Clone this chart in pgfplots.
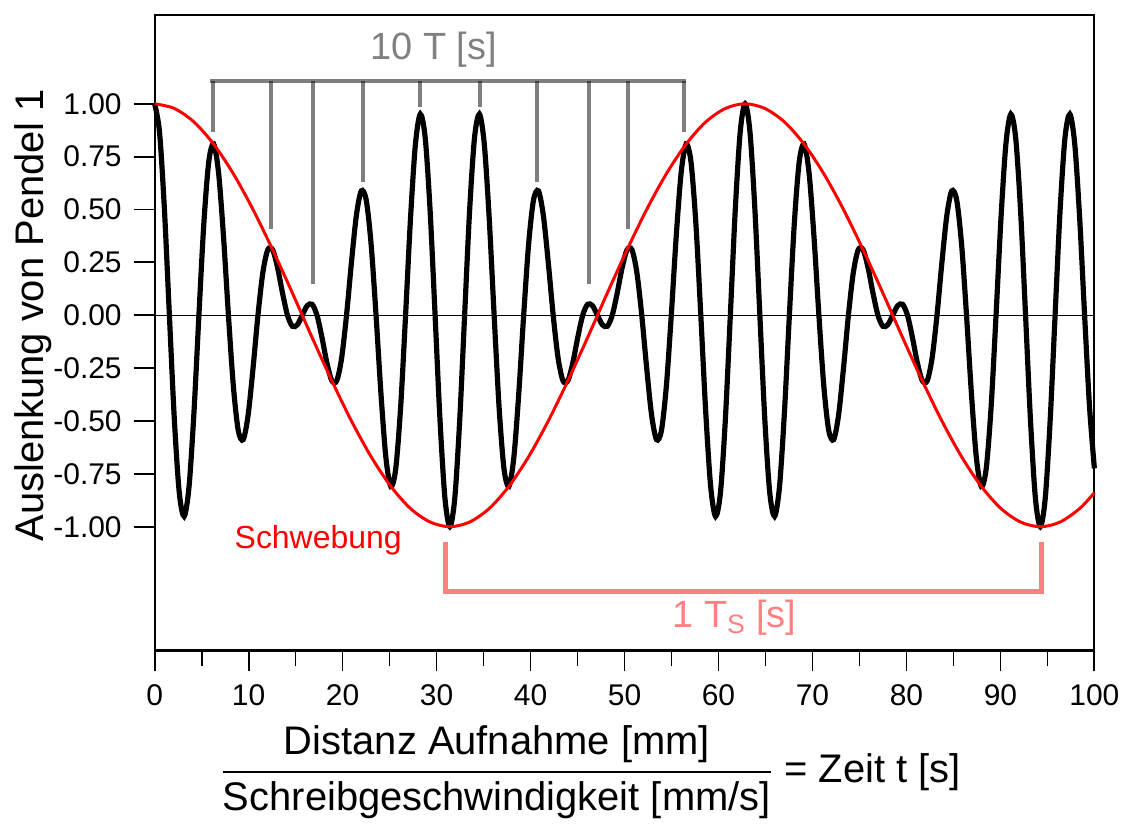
\documentclass[border=0pt]{standalone}
\usepackage{amsmath}
\usepackage{fontspec}
\setmainfont{Liberation Sans}
\usepackage{pgfplots}
\pgfplotsset{compat=1.18}

\definecolor{lachs}{RGB}{255,128,128}

% Pendel 1: cos(t) * cos(t/10)
\pgfplotstableread{
x y
0 1.000
0.524 0.865
1.047 0.497
1.571 0
2.094 -0.489
2.618 -0.837
3.142 -0.951
3.665 -0.809
4.189 -0.457
4.712 0
5.236 0.433
5.760 0.726
6.283 0.809
6.807 0.673
7.330 0.372
7.854 0
8.378 -0.335
8.901 -0.545
9.425 -0.588
9.948 -0.472
10.472 -0.250
10.996 0
11.519 0.203
12.043 0.310
12.566 0.309
13.090 0.224
13.614 0.104
14.137 0
14.661 -0.052
15.184 -0.045
15.708 0
16.232 0.045
16.755 0.052
17.279 0
17.802 -0.104
18.326 -0.224
18.850 -0.309
19.373 -0.310
19.897 -0.203
20.420 0
20.944 0.250
21.468 0.472
21.991 0.588
22.515 0.545
23.038 0.335
23.562 0
24.086 -0.372
24.609 -0.673
25.133 -0.809
25.656 -0.726
26.180 -0.433
26.704 0
27.227 0.457
27.751 0.809
28.274 0.951
28.798 0.837
29.322 0.489
29.845 0
30.369 -0.497
30.892 -0.865
31.416 -1.000
31.940 -0.865
32.463 -0.497
32.987 0
33.510 0.489
34.034 0.837
34.558 0.951
35.081 0.809
35.605 0.457
36.128 0
36.652 -0.433
37.176 -0.726
37.699 -0.809
38.223 -0.673
38.746 -0.372
39.270 0
39.794 0.335
40.317 0.545
40.841 0.588
41.364 0.472
41.888 0.250
42.412 0
42.935 -0.203
43.459 -0.310
43.982 -0.309
44.506 -0.224
45.029 -0.104
45.553 0
46.077 0.052
46.600 0.045
47.124 0
47.648 -0.045
48.171 -0.052
48.695 0
49.218 0.104
49.742 0.224
50.265 0.309
50.789 0.310
51.313 0.203
51.836 0
52.360 -0.250
52.883 -0.472
53.407 -0.588
53.931 -0.545
54.454 -0.335
54.978 0
55.501 0.372
56.025 0.673
56.549 0.809
57.072 0.726
57.596 0.433
58.119 0
58.643 -0.457
59.167 -0.809
59.690 -0.951
60.214 -0.837
60.737 -0.489
61.261 0
61.785 0.497
62.308 0.865
62.832 1.000
63.355 0.865
63.879 0.497
64.403 0
64.926 -0.489
65.450 -0.837
65.973 -0.951
66.497 -0.809
67.021 -0.457
67.544 0
68.068 0.433
68.591 0.726
69.115 0.809
69.639 0.673
70.162 0.372
70.686 0
71.209 -0.335
71.733 -0.545
72.257 -0.588
72.780 -0.472
73.304 -0.250
73.827 0
74.351 0.203
74.875 0.310
75.398 0.309
75.922 0.224
76.445 0.104
76.969 0
77.493 -0.052
78.016 -0.045
78.540 0
79.063 0.045
79.587 0.052
80.111 0
80.634 -0.104
81.158 -0.224
81.681 -0.309
82.205 -0.310
82.729 -0.203
83.252 0
83.776 0.250
84.300 0.472
84.823 0.588
85.347 0.545
85.870 0.335
86.394 0
86.918 -0.372
87.441 -0.673
87.965 -0.809
88.488 -0.726
89.012 -0.433
89.536 0
90.059 0.457
90.583 0.809
91.106 0.951
91.630 0.837
92.153 0.489
92.677 0
93.201 -0.497
93.724 -0.865
94.248 -1.000
94.772 -0.865
95.295 -0.497
95.819 0
96.342 0.489
96.866 0.837
97.389 0.951
97.913 0.809
98.437 0.457
98.960 0
99.484 -0.433
100 -0.724
}\pendel

% Schwebung (Einhuellende)
\pgfplotstableread{
x y
0 1.000
2.094 0.978
4.189 0.914
6.283 0.809
8.378 0.669
10.472 0.500
12.566 0.309
14.661 0.105
16.755 -0.105
18.850 -0.309
20.944 -0.500
23.038 -0.669
25.133 -0.809
27.227 -0.914
29.322 -0.978
31.416 -1.000
33.510 -0.978
35.605 -0.914
37.699 -0.809
39.794 -0.669
41.888 -0.500
43.982 -0.309
46.077 -0.105
48.171 0.105
50.265 0.309
52.360 0.500
54.454 0.669
56.549 0.809
58.643 0.914
60.737 0.978
62.832 1.000
64.926 0.978
67.021 0.914
69.115 0.809
71.209 0.669
73.304 0.500
75.398 0.309
77.493 0.105
79.587 -0.105
81.681 -0.309
83.776 -0.500
85.870 -0.669
87.965 -0.809
90.059 -0.914
92.153 -0.978
94.248 -1.000
96.342 -0.978
98.437 -0.914
100 -0.839
}\schwebung

\begin{document}
\begin{tikzpicture}[grau/.style={black, opacity=0.5, line width=2pt}]
\begin{axis}[
  scale only axis,
  width=471pt, height=318.5pt,
  xmin=0, xmax=100, ymin=-1.585, ymax=1.42,
  clip=false,
  axis line style={line width=1.1pt},
  every tick/.style={black, line width=0.9pt},
  tick align=outside,
  xtick pos=bottom, ytick pos=left,
  major tick length=10.5pt, minor tick length=8pt,
  xtick={0,10,...,100}, minor x tick num=1,
  ytick={-1,-0.75,...,1},
  yticklabels={-1.00,-0.75,-0.50,-0.25,0.00,0.25,0.50,0.75,1.00},
  /pgf/number format/assume math mode=true,
  tick label style={font=\fontsize{15}{18}\selectfont},
  yticklabel style={xshift=-2.5pt},
  xticklabel style={yshift=-3pt},
  label style={font=\fontsize{20}{24}\selectfont},
  ylabel={Auslenkung von Pendel 1},
  ylabel style={at={(axis description cs:-0.1295,0.5275)}, anchor=center},
  xlabel={$\genfrac{}{}{1pt}{0}{\text{Distanz Aufnahme [mm]}}{\text{Schreibgeschwindigkeit [mm/s]}}$ = Zeit t [s]},
  xlabel style={at={(axis description cs:0.5,0)}, anchor=center, yshift=-61pt, xshift=-17pt},
]
\draw[line width=0.5pt] (axis cs:0,0) -- (axis cs:100,0);
\addplot[black, line width=2.6pt, smooth] table {\pendel};
\addplot[red, line width=1.5pt, smooth] table {\schwebung};

% 10 T
\draw[grau] (axis cs:5.91,1.110) -- (axis cs:56.58,1.110);
\draw[grau] (axis cs:6.2,1.110) -- (axis cs:6.2,0.868);
\draw[grau] (axis cs:12.35,1.110) -- (axis cs:12.35,0.406);
\draw[grau] (axis cs:16.8,1.110) -- (axis cs:16.8,0.146);
\draw[grau] (axis cs:22.2,1.110) -- (axis cs:22.2,0.63);
\draw[grau] (axis cs:28.2,1.110) -- (axis cs:28.2,0.983);
\draw[grau] (axis cs:34.6,1.110) -- (axis cs:34.6,0.983);
\draw[grau] (axis cs:40.7,1.110) -- (axis cs:40.7,0.63);
\draw[grau] (axis cs:46.2,1.110) -- (axis cs:46.2,0.146);
\draw[grau] (axis cs:50.4,1.110) -- (axis cs:50.4,0.406);
\draw[grau] (axis cs:56.3,1.110) -- (axis cs:56.3,0.868);
\node[black!50, font=\fontsize{19}{23}\selectfont, inner sep=0pt] at (axis cs:29.7,1.255) {10 T [s]};

% 1 T_S
\draw[lachs, line width=2.3pt, line join=miter] (axis cs:30.97,-1.071) -- (axis cs:30.97,-1.307)
  -- (axis cs:94.37,-1.307) -- (axis cs:94.37,-1.071);
\node[lachs, font=\fontsize{19}{23}\selectfont, inner sep=0pt] at (axis cs:61.7,-1.429) {1 T\textsubscript{S} [s]};

\node[red, font=\fontsize{16}{19}\selectfont, anchor=base] at (axis cs:17.4,-1.104) {Schwebung};
\end{axis}
\path (-77.5pt,-82pt) rectangle (485.5pt,326pt);
\end{tikzpicture}
\end{document}
